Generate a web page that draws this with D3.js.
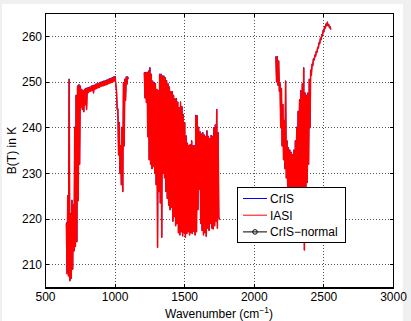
<!DOCTYPE html>
<html><head><meta charset="utf-8">
<script src="https://cdn.jsdelivr.net/npm/d3@7"></script>
<style>
html,body{margin:0;padding:0;background:#f0f0f0;}
svg{display:block;}
text{font-family:"Liberation Sans",Arial,Helvetica,sans-serif;fill:#000;}
</style></head><body>
<svg id="c" width="411" height="321"></svg>
<script>
// ---- data (brightness temperature in K on a 5 cm^-1 grid per CrIS band) ----
const bandStart = [650, 1210, 2155];
const bandStep = 5;

const iasiB1 = [219,208,225,207.5,250.5,206.5,221,207,224,209,223,213,240,214,247,215,249,224,249.3,232,
249,244.5,248.3,244,248,243.5,248.3,245,248.5,244,248.6,247.6,248.7,247.9,248.8,248,249,248.2,249.1,247.6,
249.2,248.4,249.4,248.6,249.5,248.7,249.6,248.8,249.8,249,249.9,249.1,250,249.2,250.1,249.3,250.2,249.4,250.3,249.5,
250.5,249.7,250.6,249.8,250.7,249.9,250.9,250.1,251,250.2,251.1,249.5,248,244,244,234,241,230,236,227.5,
240,226,249.8,236,250.5,246,251,249.5,251,250.6];
const iasiB2 = [252,246.5,252,245.5,252,238,252.3,233,253,232,251.6,231,250.1,231.5,249.8,230,249.5,227.5,248.3,213.8,
248,226,251.6,223.5,251.6,216,251.2,230,251.2,229,250.8,226,250.2,224.5,249.5,223,248.8,222,247.8,222.5,
247.8,219.5,247,220.5,246.2,218.5,246.3,219,245.5,217,244.3,216.5,245.5,217.2,244.5,216.3,242.8,217,241,216,
238.1,216.8,236.5,217.2,236,216.5,236.2,217,237,216.8,236,217.3,235.9,216.5,242.6,217.2,242.5,222,240,226.5,
239,219,238.5,217.5,238.8,216.5,238.3,217,238,216.2,239.2,218,238,217.5,237.5,219,238.2,218,238,217.8,
239.9,218.5,240.5,219.5,243.9,218,238.8,220.5,219.8];
const iasiB3 = [255.5,250,255.5,249.3,254.5,248,249.5,240,248.5,236,245,233,241.5,231,250.1,229,237,227,235.5,226,
235,225,234.5,224.5,234,224,235,224.5,237,225,240,225.5,243.5,226,246,226.5,248,227,249.5,226,
253,213.2,247.5,227,247,228,247.5,232,250.5,240,252.5,251.5,253.8,253.6,255,254.8,255.8,255.6,256.6,256.5,
257.5,257.4,258.5,258.4,259.5,259.3,260.3,260.2,261.2,261,262,261.8,262.6,262.3,263,262.4,262.5,261.9,262,261.5];

const crisB1 = [219.3,208,225.2,207.5,250.7,206.5,221.3,207,224.2,209,223.2,213,240.2,214,247.2,215,249.2,224,249.5,232,
249.2,244.5,248.5,244,248.2,243.5,248.5,245,248.7,244,248.8,247.6,248.9,247.9,249,248,249.2,248.2,249.3,247.6,
249.4,248.4,249.6,248.6,249.7,248.7,249.8,248.8,250,249,250.1,249.1,250.2,249.2,250.3,249.3,250.4,249.4,250.5,249.5,
250.7,249.7,250.8,249.8,250.9,249.9,251.1,250.1,251.2,250.2,251.3,249.5,248.2,244,244.2,234,241.2,230,236.2,227.5,
240.2,226,250,236,250.7,246,251.2,249.5,251.2,250.8];
const crisB2 = [252.2,246.5,252.2,245.5,252.2,238,252.5,233,253.2,232,251.8,231,250.3,231.5,250,230,249.7,227.5,248.5,213.8,
248.2,226,251.8,223.5,251.8,216,251.4,230,251.4,229,251,226,250.4,224.5,249.7,223,249,222,248,222.5,
248,219.5,247.2,220.5,246.4,218.5,246.5,219,245.7,217,244.5,216.5,245.7,217.2,244.7,216.3,243,217,241.2,216,
238.3,216.8,236.7,217.2,236.2,216.5,236.4,217,237.2,216.8,236.2,217.3,236.1,216.5,242.8,217.2,242.7,222,240.2,226.5,
239.2,219,238.7,217.5,239,216.5,238.5,217,238.2,216.2,239.4,218,238.2,217.5,237.7,219,238.4,218,238.2,217.8,
240.1,218.5,240.7,219.5,244.1,218,239,220.5,220];
const crisB3 = [255.7,250,255.7,249.3,254.7,248,249.7,240,248.7,236,245.2,233,241.7,231,250.3,229,237.2,227,235.7,226,
235.2,225,234.7,224.5,234.2,224,235.2,224.5,237.2,225,240.2,225.5,243.7,226,246.2,226.5,248.2,227,249.7,226,
253.2,213.2,247.7,227,247.2,228,247.7,232,250.7,240,252.7,251.5,254,253.6,255.2,254.8,256,255.6,256.8,256.5,
257.7,257.4,258.7,258.4,259.7,259.3,260.5,260.2,261.4,261,262.2,261.8,262.8,262.3,263.2,262.4,262.7,261.9,262.2,261.5];

const crisNormal = []; // not visible in the reference

const xTicks = [500, 1000, 1500, 2000, 2500, 3000];
const yTicks = [210, 220, 230, 240, 250, 260];
const legendLabels = ["CrIS", "IASI", "CrIS\u2212normal"];

// ---- drawing ----
const svg = d3.select("#c");
svg.append("rect").attr("x", 2).attr("y", 4).attr("width", 401).attr("height", 317).attr("fill", "#fff");

const x = d3.scaleLinear().domain([500, 3000]).range([45.5, 393.5]);
const y = d3.scaleLinear().domain([205, 265]).range([287.5, 13.5]);
const px = v => Math.round(x(v) - 0.5) + 0.5;
const py = v => Math.round(y(v) - 0.5) + 0.5;

// grid
const grid = svg.append("g").attr("stroke", "#555").attr("stroke-width", 1)
  .attr("stroke-dasharray", "1,2").attr("shape-rendering", "crispEdges");
xTicks.slice(1, -1).forEach(t => grid.append("line")
  .attr("x1", px(t)).attr("x2", px(t)).attr("y1", y.range()[0]).attr("y2", y.range()[1]));
yTicks.forEach(t => grid.append("line")
  .attr("x1", x.range()[0]).attr("x2", x.range()[1]).attr("y1", py(t)).attr("y2", py(t)));

// series
const toPts = (start, vals) => vals.map((v, i) => [start + bandStep * i, v]);
const line = d3.line().x(d => x(d[0])).y(d => y(d[1]));
const plot = svg.append("g");
function drawSeries(bands, color, w) {
  bands.forEach((vals, b) => {
    plot.append("path").attr("d", line(toPts(bandStart[b], vals)))
      .attr("fill", "none").attr("stroke", color).attr("stroke-width", w)
      .attr("stroke-linejoin", "round");
  });
}
drawSeries([crisB1, crisB2, crisB3], "#0000ff", 1.0);
drawSeries([iasiB1, iasiB2, iasiB3], "#ff0000", 1.5);
if (crisNormal.length) drawSeries([crisNormal], "#000", 1);

// axes box
const ax = svg.append("g").attr("stroke", "#000").attr("stroke-width", 1).attr("shape-rendering", "crispEdges");
ax.append("rect").attr("x", 45.5).attr("y", 13.5).attr("width", 348).attr("height", 274).attr("fill", "none");
ax.append("line").attr("x1", 45).attr("x2", 394).attr("y1", 288.5).attr("y2", 288.5);
const tl = 3.5;
xTicks.forEach(t => {
  ax.append("line").attr("x1", px(t)).attr("x2", px(t)).attr("y1", 287.5).attr("y2", 287.5 - tl);
  ax.append("line").attr("x1", px(t)).attr("x2", px(t)).attr("y1", 13.5).attr("y2", 13.5 + tl);
});
yTicks.forEach(t => {
  ax.append("line").attr("x1", 45.5).attr("x2", 45.5 + tl).attr("y1", py(t)).attr("y2", py(t));
  ax.append("line").attr("x1", 393.5).attr("x2", 393.5 - tl).attr("y1", py(t)).attr("y2", py(t));
});

// tick labels
xTicks.forEach(t => svg.append("text").attr("x", x(t)).attr("y", 301)
  .attr("text-anchor", "middle").attr("font-size", 12).text(t));
yTicks.forEach(t => svg.append("text").attr("x", 42).attr("y", y(t) + 4.2)
  .attr("text-anchor", "end").attr("font-size", 12).text(t));

// axis titles
const xt = svg.append("text").attr("x", 219).attr("y", 318).attr("text-anchor", "middle").attr("font-size", 12);
xt.append("tspan").text("Wavenumber (cm");
xt.append("tspan").attr("font-size", 8.5).attr("dy", -5).text("\u22121");
xt.append("tspan").attr("dy", 5).text(")");
svg.append("text").attr("transform", "translate(16,150.5) rotate(-90)")
  .attr("text-anchor", "middle").attr("font-size", 12).text("B(T) in K");

// legend
const lg = svg.append("g");
lg.append("rect").attr("x", 237.5).attr("y", 187.5).attr("width", 107.5).attr("height", 55)
  .attr("fill", "#fff").attr("stroke", "#000").attr("stroke-width", 1).attr("shape-rendering", "crispEdges");
const lgColors = ["#0000ff", "#ff0000", "#000"];
legendLabels.forEach((lab, i) => {
  const yy = 198.5 + i * 16.7;
  lg.append("line").attr("x1", 243).attr("x2", 267).attr("y1", yy).attr("y2", yy)
    .attr("stroke", lgColors[i]).attr("stroke-width", 1);
  if (i === 2) lg.append("circle").attr("cx", 255).attr("cy", yy).attr("r", 2.3)
    .attr("fill", "none").attr("stroke", "#000").attr("stroke-width", 1);
  lg.append("text").attr("x", 270).attr("y", yy + 4.3).attr("font-size", 12).text(lab);
});
</script>
</body></html>
